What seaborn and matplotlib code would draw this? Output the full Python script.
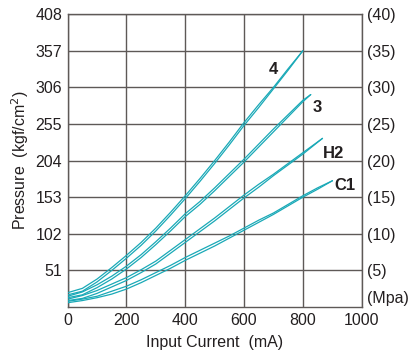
import matplotlib
matplotlib.use("Agg")
import matplotlib.pyplot as plt
import seaborn as sns
import pandas as pd

# Input current (mA) sample points for each curve (two lines per curve)
x_4 = [0, 50, 100, 150, 200, 250, 300, 350, 400, 450, 500, 550, 600, 650, 700, 750, 800]
p4_up = [17, 22, 35, 51, 68, 86, 106, 128, 151, 175, 200, 226, 253, 278, 304, 330, 357]
p4_down = [20, 26, 39, 55, 72, 90, 110, 132, 155, 179, 204, 230, 257, 282, 306, 332, 357]

x_3 = [0, 50, 100, 150, 200, 250, 300, 350, 400, 450, 500, 550, 600, 650, 700, 750, 800, 827]
p3_up = [13, 17, 27, 39, 53, 69, 87, 106, 126, 143, 162, 182, 202, 223, 244, 265, 286, 296]
p3_down = [15, 21, 31, 43, 57, 73, 91, 110, 130, 147, 166, 186, 206, 227, 248, 268, 288, 296]

x_h2 = [0, 50, 100, 150, 200, 250, 300, 350, 400, 450, 500, 550, 600, 650, 700, 750, 800, 867]
ph2_up = [9, 12, 19, 28, 37, 48, 60, 75, 90, 105, 120, 136, 152, 167, 183, 198, 213, 235]
ph2_down = [11, 16, 23, 32, 41, 52, 64, 79, 94, 109, 124, 140, 156, 171, 185, 200, 215, 235]

x_c1 = [0, 50, 100, 150, 200, 250, 300, 350, 400, 450, 500, 550, 600, 650, 700, 750, 800, 850, 901]
pc1_up = [6, 9, 13, 18, 25, 34, 44, 54, 65, 75, 85, 96, 107, 118, 129, 141, 153, 164, 176]
pc1_down = [8, 11, 15, 22, 29, 38, 48, 58, 69, 79, 89, 99, 110, 121, 131, 143, 155, 166, 176]

curve_labels = ["4", "3", "H2", "C1"]
y_ticks = [51, 102, 153, 204, 255, 306, 357, 408]
y_right_labels = ["(5)", "(10)", "(15)", "(20)", "(25)", "(30)", "(35)", "(40)"]
x_ticks = [0, 200, 400, 600, 800, 1000]

rows = []
for name, xs, ys in [("4u", x_4, p4_up), ("4d", x_4, p4_down),
                     ("3u", x_3, p3_up), ("3d", x_3, p3_down),
                     ("H2u", x_h2, ph2_up), ("H2d", x_h2, ph2_down),
                     ("C1u", x_c1, pc1_up), ("C1d", x_c1, pc1_down)]:
    for xv, yv in zip(xs, ys):
        rows.append({"series": name, "current": xv, "pressure": yv})
df = pd.DataFrame(rows)

sns.set_theme(style="white")
plt.rcParams['font.family'] = ['Liberation Sans', 'DejaVu Sans']

fig = plt.figure(figsize=(4.09, 3.56), dpi=100)
ax = fig.add_axes([0.1655, 0.1376, 0.884 - 0.1655, 0.96 - 0.1376])

teal = "#19A9B7"
txt = "#231f20"
fs = 11.5
names = df["series"].unique()
sns.lineplot(data=df, x="current", y="pressure", hue="series",
             palette={n: teal for n in names}, estimator=None, sort=False,
             legend=False, linewidth=0.9, ax=ax, zorder=3)

ax.set_xlim(0, 1000)
ax.set_ylim(0, 408)
ax.set_xticks(x_ticks)
ax.set_yticks(y_ticks)
ax.set_xticklabels([str(v) for v in x_ticks], fontsize=fs, color=txt)
ax.set_yticklabels([str(v) for v in y_ticks], fontsize=fs, color=txt)
ax.tick_params(axis="both", length=0, pad=4)
ax.grid(True, color="#5e5957", linewidth=1.0)
for s in ax.spines.values():
    s.set_color("#5e5957")
    s.set_linewidth(1.0)

ax.set_xlabel("Input Current  (mA)", fontsize=fs, color=txt, labelpad=5)
ax.set_ylabel("Pressure  (kgf/cm$^2$)", fontsize=fs, color=txt, labelpad=3)

ax2 = ax.twinx()
ax2.set_ylim(0, 408)
ax2.set_yticks(y_ticks)
ax2.set_yticklabels(y_right_labels, fontsize=fs, color=txt)
ax2.tick_params(axis="y", length=0, pad=4)
ax2.grid(False)
for s in ax2.spines.values():
    s.set_visible(False)
ax2.text(1.02, 12, "(Mpa)", transform=ax2.get_yaxis_transform(),
         fontsize=fs, color=txt, va="center", ha="left")

label_pos = [(700, 331), (850, 278), (905, 214), (945, 170)]
for lab, (lx, ly) in zip(curve_labels, label_pos):
    ax.text(lx, ly, lab, fontsize=12, fontweight="bold", color=txt,
            ha="center", va="center", zorder=4)

fig.savefig("out.png", dpi=100)
